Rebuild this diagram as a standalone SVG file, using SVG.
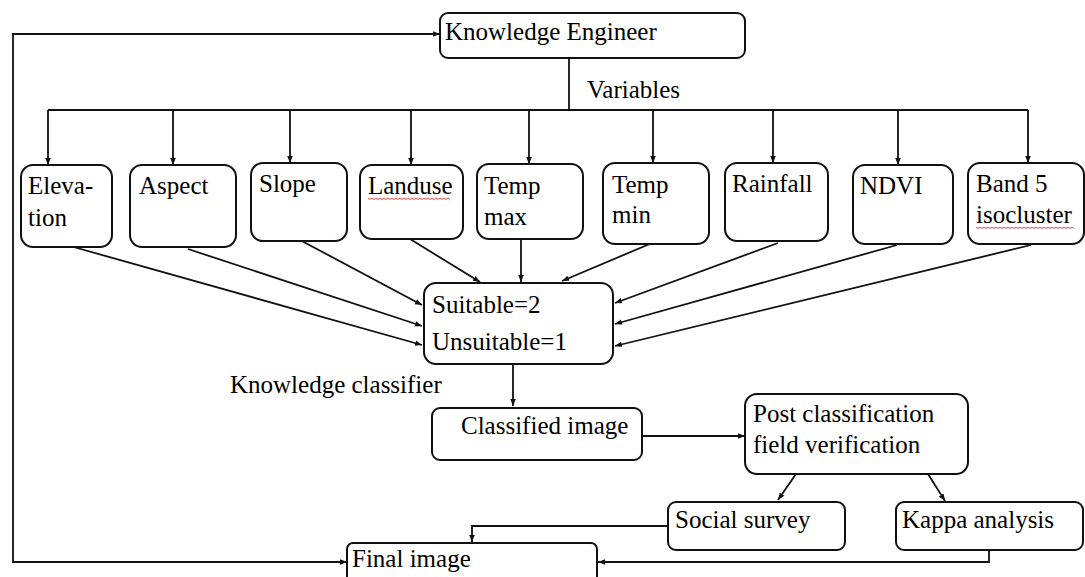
<svg xmlns="http://www.w3.org/2000/svg" width="1085" height="577" viewBox="0 0 1085 577">
<style>
.box{fill:#fff;stroke:#111;stroke-width:2}
.ln{fill:none;stroke:#111;stroke-width:1.8}
text{font-family:'Liberation Serif','Times New Roman',Times,'DejaVu Serif',serif;font-size:25px;fill:#000}
.sq{fill:none;stroke:#e03030;stroke-width:0.9}
</style>
<defs>
<marker id="ah" viewBox="0 0 10 10" refX="10" refY="5" markerWidth="7" markerHeight="7" markerUnits="userSpaceOnUse" orient="auto-start-reverse">
<path d="M0,1 L10,5 L0,9 Z" fill="#111"/>
</marker>
</defs>
<rect width="1085" height="577" fill="#fff"/>
<g id="connectors">
<path class="ln" d="M440,34 H13 V562 H347" marker-start="url(#ah)" marker-end="url(#ah)"/>
<path class="ln" d="M569,58 V110"/>
<path class="ln" d="M48,110 H1028"/>
<path class="ln" d="M48,110 V165" marker-end="url(#ah)"/>
<path class="ln" d="M173,110 V165" marker-end="url(#ah)"/>
<path class="ln" d="M290,110 V163" marker-end="url(#ah)"/>
<path class="ln" d="M411,110 V165" marker-end="url(#ah)"/>
<path class="ln" d="M529,110 V164" marker-end="url(#ah)"/>
<path class="ln" d="M653,110 V163" marker-end="url(#ah)"/>
<path class="ln" d="M773,110 V163" marker-end="url(#ah)"/>
<path class="ln" d="M898,110 V165" marker-end="url(#ah)"/>
<path class="ln" d="M1028,110 V163" marker-end="url(#ah)"/>
<path class="ln" d="M63,244 L422,345" marker-end="url(#ah)"/>
<path class="ln" d="M188,249 L422,326" marker-end="url(#ah)"/>
<path class="ln" d="M300,240 L422,305" marker-end="url(#ah)"/>
<path class="ln" d="M410,239 L480,282" marker-end="url(#ah)"/>
<path class="ln" d="M521,239 L521,282" marker-end="url(#ah)"/>
<path class="ln" d="M652,243 L562,281" marker-end="url(#ah)"/>
<path class="ln" d="M778,243 L615,303" marker-end="url(#ah)"/>
<path class="ln" d="M897,245 L615,324" marker-end="url(#ah)"/>
<path class="ln" d="M1031,245 L615,346" marker-end="url(#ah)"/>
<path class="ln" d="M513,364 V406" marker-end="url(#ah)"/>
<path class="ln" d="M642,436 H745" marker-end="url(#ah)"/>
<path class="ln" d="M796,474 L778,500" marker-end="url(#ah)"/>
<path class="ln" d="M928,474 L945,501" marker-end="url(#ah)"/>
<path class="ln" d="M668,526 H472 V542" marker-end="url(#ah)"/>
<path class="ln" d="M989,550 V562 H598" marker-end="url(#ah)"/>
</g>
<g id="knowledge-engineer">
<rect class="box" x="440" y="13" width="305" height="45" rx="8"/>
<text x="445" y="40">Knowledge Engineer</text>
</g>
<g id="variables-label">
<text x="587" y="98">Variables</text>
</g>
<g id="elevation">
<rect class="box" x="21" y="165" width="91" height="82" rx="12"/>
<text x="28" y="194">Eleva-</text>
<text x="28" y="226">tion</text>
</g>
<g id="aspect">
<rect class="box" x="130" y="165" width="106" height="82" rx="12"/>
<text x="139" y="194">Aspect</text>
</g>
<g id="slope">
<rect class="box" x="251" y="163" width="96" height="78" rx="12"/>
<text x="259" y="192">Slope</text>
</g>
<g id="landuse">
<rect class="box" x="360" y="165" width="103" height="74" rx="12"/>
<text x="368" y="194">Landuse</text>
<path class="sq" d="M368,198 l2,1.5 l2,-1.5 l2,1.5 l2,-1.5 l2,1.5 l2,-1.5 l2,1.5 l2,-1.5 l2,1.5 l2,-1.5 l2,1.5 l2,-1.5 l2,1.5 l2,-1.5 l2,1.5 l2,-1.5 l2,1.5 l2,-1.5 l2,1.5 l2,-1.5 l2,1.5 l2,-1.5 l2,1.5 l2,-1.5 l2,1.5 l2,-1.5 l2,1.5 l2,-1.5 l2,1.5 l2,-1.5 l2,1.5 l2,-1.5 l2,1.5 l2,-1.5 l2,1.5 l2,-1.5 l2,1.5 l2,-1.5 l2,1.5 l2,-1.5 l2,1.5"/>
</g>
<g id="temp-max">
<rect class="box" x="477" y="164" width="106" height="75" rx="12"/>
<text x="484" y="194">Temp</text>
<text x="484" y="225">max</text>
</g>
<g id="temp-min">
<rect class="box" x="603" y="163" width="106" height="81" rx="12"/>
<text x="612" y="193">Temp</text>
<text x="612" y="223">min</text>
</g>
<g id="rainfall">
<rect class="box" x="725" y="163" width="103" height="78" rx="12"/>
<text x="732" y="192">Rainfall</text>
</g>
<g id="ndvi">
<rect class="box" x="853" y="165" width="100" height="79" rx="12"/>
<text x="860" y="194">NDVI</text>
</g>
<g id="band5">
<rect class="box" x="968" y="163" width="116" height="81" rx="12"/>
<text x="976" y="192">Band 5</text>
<text x="976" y="223">isocluster</text>
<path class="sq" d="M976,227 l2,1.5 l2,-1.5 l2,1.5 l2,-1.5 l2,1.5 l2,-1.5 l2,1.5 l2,-1.5 l2,1.5 l2,-1.5 l2,1.5 l2,-1.5 l2,1.5 l2,-1.5 l2,1.5 l2,-1.5 l2,1.5 l2,-1.5 l2,1.5 l2,-1.5 l2,1.5 l2,-1.5 l2,1.5 l2,-1.5 l2,1.5 l2,-1.5 l2,1.5 l2,-1.5 l2,1.5 l2,-1.5 l2,1.5 l2,-1.5 l2,1.5 l2,-1.5 l2,1.5 l2,-1.5 l2,1.5 l2,-1.5 l2,1.5 l2,-1.5 l2,1.5 l2,-1.5 l2,1.5 l2,-1.5 l2,1.5 l2,-1.5 l2,1.5 l2,-1.5 l2,1.5"/>
</g>
<g id="classifier">
<rect class="box" x="424" y="283" width="189" height="81" rx="12"/>
<text x="432" y="313">Suitable=2</text>
<text x="432" y="350">Unsuitable=1</text>
</g>
<g id="knowledge-classifier-label">
<text x="230" y="393">Knowledge classifier</text>
</g>
<g id="classified-image">
<rect class="box" x="432" y="408" width="210" height="52" rx="8"/>
<text x="461" y="434">Classified image</text>
</g>
<g id="post-classification">
<rect class="box" x="745" y="394" width="223" height="80" rx="12"/>
<text x="753" y="422">Post classification</text>
<text x="753" y="453">field verification</text>
</g>
<g id="social-survey">
<rect class="box" x="668" y="502" width="177" height="48" rx="8"/>
<text x="675" y="528">Social survey</text>
</g>
<g id="kappa-analysis">
<rect class="box" x="896" y="502" width="187" height="48" rx="8"/>
<text x="902" y="528">Kappa analysis</text>
</g>
<g id="final-image">
<rect class="box" x="347" y="543" width="250" height="44" rx="6"/>
<text x="352" y="567">Final image</text>
</g>
</svg>
